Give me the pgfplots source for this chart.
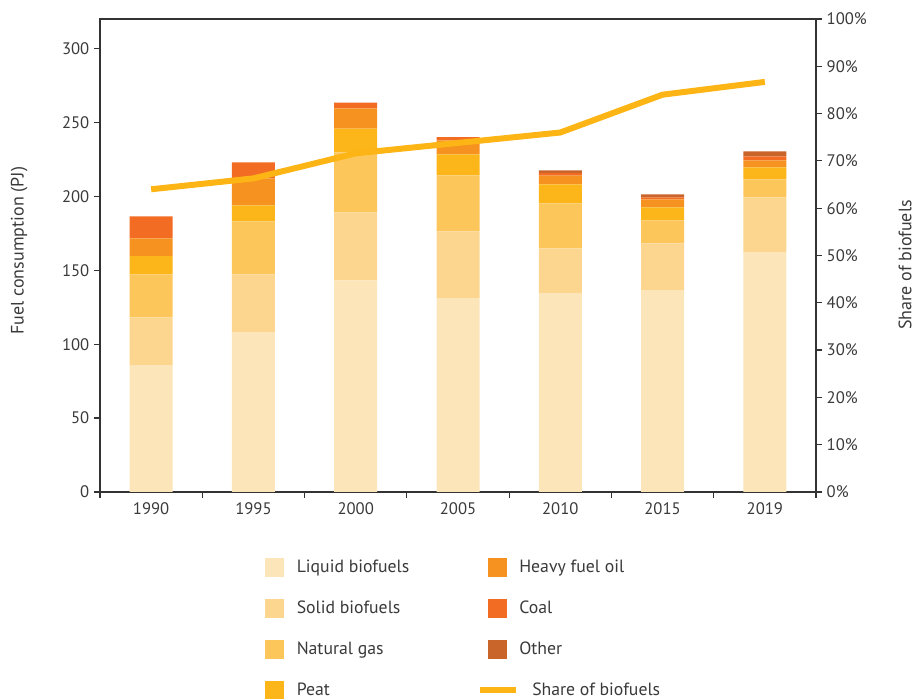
\documentclass[border=0pt]{standalone}
\usepackage{pgfplots}
\pgfplotsset{compat=1.18}
\usepackage{fontspec}
\setmainfont{PT Sans}
\definecolor{liquidbio}{HTML}{FCE5B8}
\definecolor{solidbio}{HTML}{FCD68E}
\definecolor{natgas}{HTML}{FDC65A}
\definecolor{peat}{HTML}{FCB61A}
\definecolor{hfo}{HTML}{F69220}
\definecolor{coal}{HTML}{F36C23}
\definecolor{otherfuel}{HTML}{C9652B}
\definecolor{linecol}{HTML}{FDB515}
\definecolor{axisgray}{HTML}{333333}
\definecolor{textgray}{HTML}{3A3A3A}
\pgfplotsset{
  sqlegend/.style={legend image code/.code={\fill[#1] (0pt,-6.75pt) rectangle (13.5pt,6.75pt);}},
  linelegend/.style={legend image code/.code={\path[draw=none,fill=none,use as bounding box] (0pt,-6.75pt) rectangle (13.5pt,6.75pt);\draw[#1,line width=4.5pt] (-6pt,0pt) -- (21pt,0pt);}},
  common/.style={
    at={(75pt,155.25pt)}, anchor=south west, scale only axis,
    width=537pt, height=354.75pt,
    xmin=-0.5, xmax=6.5,
    tick align=outside,
    axis line style={draw=axisgray, line width=0.9pt},
    tick style={axisgray, line width=0.9pt},
    major tick length=4.5pt, minor tick length=4.5pt,
    tick label style={font=\fontsize{12.5}{14}\selectfont, text=textgray},
    label style={font=\fontsize{13.5}{15}\selectfont, text=textgray},
    /pgf/number format/assume math mode=true,
  }
}
\begin{document}
\begin{tikzpicture}
\path[use as bounding box] (0,0) rectangle (687.75pt,524.25pt);
\begin{axis}[common,
  ymin=0, ymax=320,
  ybar stacked, bar width=32.25pt,
  xtick={0,1,2,3,4,5,6},
  xticklabels={1990,1995,2000,2005,2010,2015,2019},
  minor xtick={-0.5,0.5,1.5,2.5,3.5,4.5,5.5,6.5},
  major x tick style={draw=none},
  xtick pos=bottom, ytick pos=left,
  ytick={0,50,100,150,200,250,300},
  ylabel={Fuel consumption (PJ)},
  ylabel style={at={(axis description cs:-0.1130,0.51)}, anchor=center},
]
\addplot[fill=liquidbio, draw=none] coordinates {(0,85.8) (1,108.1) (2,143.2) (3,131.1) (4,134.5) (5,136.5) (6,162.2)};
\addplot[fill=solidbio, draw=none] coordinates {(0,32.4) (1,39.2) (2,46.0) (3,45.3) (4,30.4) (5,31.7) (6,37.1)};
\addplot[fill=natgas, draw=none] coordinates {(0,29.1) (1,35.8) (2,40.5) (3,37.8) (4,30.4) (5,15.6) (6,12.2)};
\addplot[fill=peat, draw=none] coordinates {(0,12.2) (1,10.8) (2,16.2) (3,14.2) (4,12.8) (5,8.8) (6,8.1)};
\addplot[fill=hfo, draw=none] coordinates {(0,12.1) (1,18.3) (2,13.6) (3,9.4) (4,5.9) (5,5.4) (6,4.7)};
\addplot[fill=coal, draw=none] coordinates {(0,14.9) (1,10.8) (2,4.0) (3,2.3) (4,1.8) (5,1.3) (6,2.7)};
\addplot[fill=otherfuel, draw=none] coordinates {(0,0) (1,0) (2,0) (3,0) (4,1.8) (5,2.1) (6,3.4)};
\end{axis}
\begin{axis}[common,
  ymin=0, ymax=100,
  axis x line=none, axis y line*=right,
  ytick={0,10,...,100},
  yticklabel={\pgfmathprintnumber[assume math mode=true]{\tick}\%},
  ylabel={Share of biofuels},
  ylabel style={at={(axis description cs:1.1243,0.48)}, anchor=center},
  legend columns=2,
  legend cell align=left,
  legend style={at={(axis description cs:0.2304,-0.1393)}, anchor=north west,
    draw=none, fill=none, inner sep=0pt, row sep=16.75pt, column sep=0pt,
    font=\fontsize{13.3}{15}\selectfont, text=textgray, nodes={inner sep=0pt}},
]
\addlegendimage{sqlegend=liquidbio}
\addlegendentry{\makebox[153pt][l]{\hspace*{9.75pt}Liquid biofuels}}
\addlegendimage{sqlegend=hfo}
\addlegendentry{\hspace*{9.75pt}Heavy fuel oil}
\addlegendimage{sqlegend=solidbio}
\addlegendentry{\makebox[153pt][l]{\hspace*{9.75pt}Solid biofuels}}
\addlegendimage{sqlegend=coal}
\addlegendentry{\hspace*{9.75pt}Coal}
\addlegendimage{sqlegend=natgas}
\addlegendentry{\makebox[153pt][l]{\hspace*{9.75pt}Natural gas}}
\addlegendimage{sqlegend=otherfuel}
\addlegendentry{\hspace*{9.75pt}Other}
\addlegendimage{sqlegend=peat}
\addlegendentry{\makebox[153pt][l]{\hspace*{9.75pt}Peat}}
\addlegendimage{linelegend=linecol}
\addlegendentry{\hspace*{19.5pt}Share of biofuels}
\addplot[linecol, line width=4.5pt, line join=round, forget plot] coordinates {(0,64.0) (1,66.3) (2,71.6) (3,73.8) (4,76.0) (5,84.0) (6,86.7)};
\end{axis}
\end{tikzpicture}
\end{document}
